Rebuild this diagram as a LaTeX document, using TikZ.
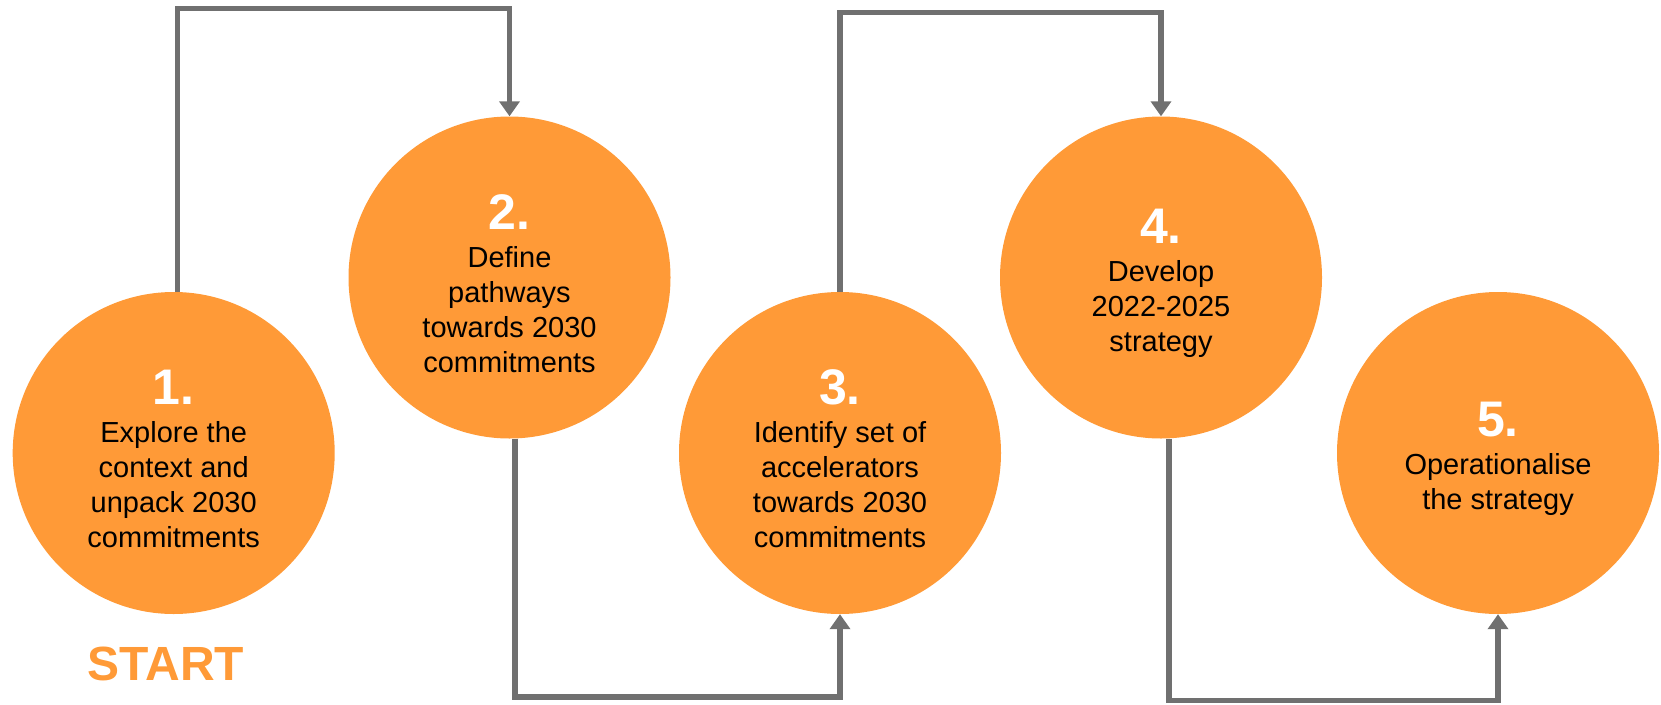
\documentclass[tikz,border=0pt]{standalone}
\usepackage{fontspec}
\setmainfont{Liberation Sans}
\usetikzlibrary{arrows.meta}
\definecolor{orangefill}{RGB}{255,154,55}
\definecolor{linegray}{RGB}{112,112,112}
\newcommand{\stepnum}[1]{{\fontsize{50}{50}\selectfont\bfseries\color{white}\rule{0pt}{47pt}#1}\\[3pt]}
\begin{document}
\begin{tikzpicture}[x=1pt,y=-1pt,
  stepcircle/.style={circle, fill=orangefill, minimum size=322pt, inner sep=0pt, align=center,
    font=\fontsize{29}{35}\selectfont, text=black},
  conn/.style={draw=linegray, line width=5.5pt, -{Triangle[width=20pt,length=15pt]}}]
\useasboundingbox (0,0) rectangle (1661,704);
\node[stepcircle] (c1) at (173.7,453) {\stepnum{1.}Explore the\\context and\\unpack 2030\\commitments};
\node[stepcircle] (c2) at (509.5,277.5) {\stepnum{2.}Define\\pathways\\towards 2030\\commitments};
\node[stepcircle] (c3) at (840,453) {\stepnum{3.}Identify set of\\accelerators\\towards 2030\\commitments};
\node[stepcircle] (c4) at (1161,277.5) {\stepnum{4.}Develop\\2022-2025\\strategy};
\node[stepcircle] (c5) at (1498,453) {\stepnum{5.}Operationalise\\the strategy};
\node[font=\fontsize{48}{48}\selectfont\bfseries, text=orangefill] (start) at (166,664) {START};
\coordinate (t1) at (0,8.5);
\coordinate (t3) at (0,12.7);
\coordinate (b2) at (0,697);
\coordinate (b4) at (0,700.5);
\draw[conn] ([xshift=4pt]c1.north) -- ([xshift=4pt]c1.north |- t1) -| (c2.north);
\draw[conn] ([xshift=5.5pt]c2.south) -- ([xshift=5.5pt]c2.south |- b2) -| (c3.south);
\draw[conn] (c3.north) -- (c3.north |- t3) -| (c4.north);
\draw[conn] ([xshift=8pt]c4.south) -- ([xshift=8pt]c4.south |- b4) -| (c5.south);
\end{tikzpicture}
\end{document}
